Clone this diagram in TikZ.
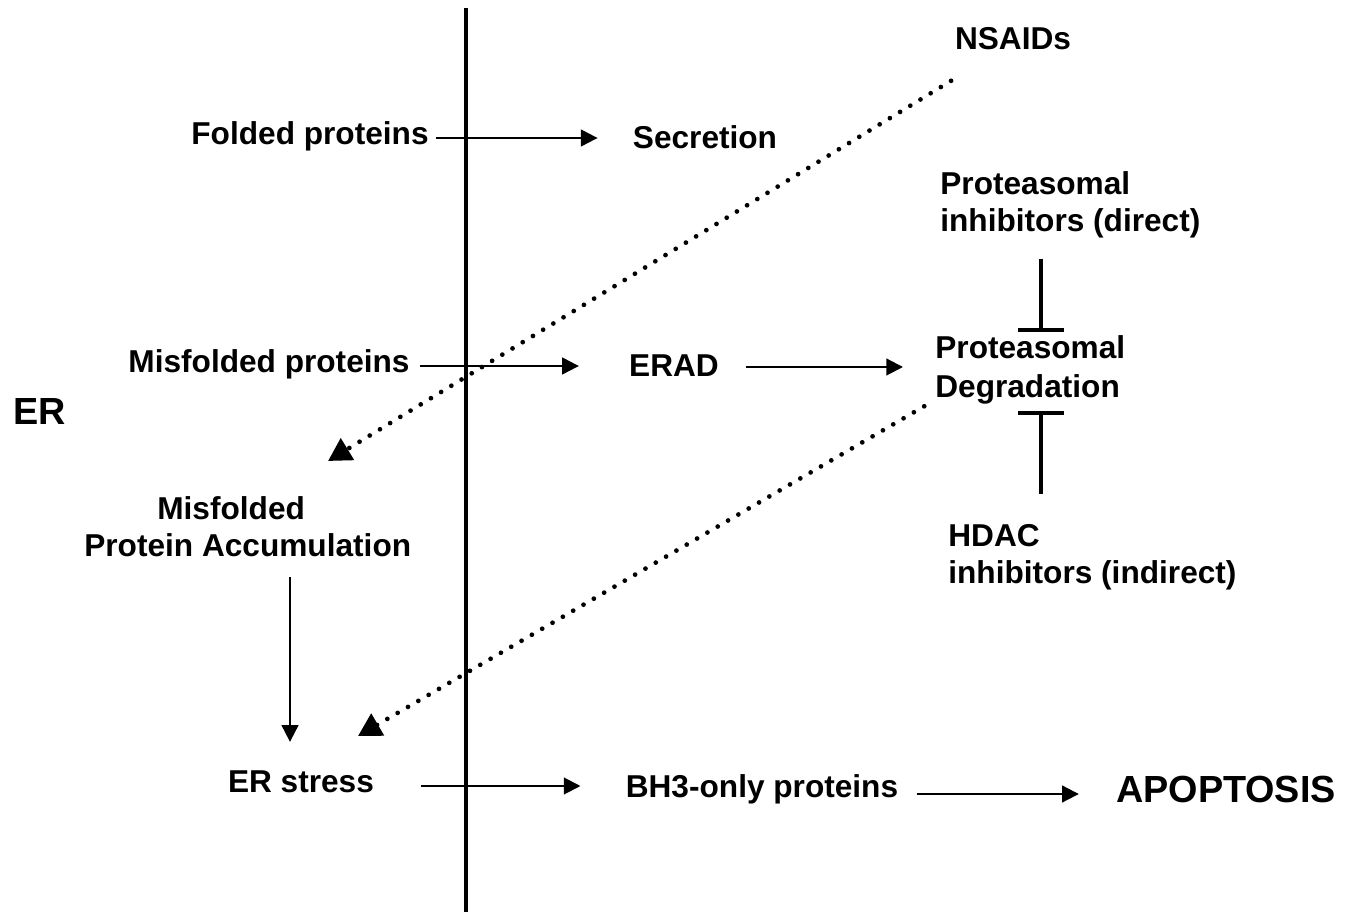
\documentclass[tikz,border=0pt]{standalone}
\usepackage{fontspec}
\setmainfont{Liberation Sans}
\usetikzlibrary{arrows.meta}
\begin{document}
\begin{tikzpicture}[x=0.02cm,y=-0.02cm,
  lbl/.style={font=\fontsize{18}{21}\selectfont\bfseries, inner sep=0pt, text height=1.6ex, text depth=0.3ex},
  multi/.style={font=\fontsize{18}{21}\selectfont\bfseries, inner sep=0pt},
  big/.style={font=\fontsize{21.5}{26}\selectfont\bfseries, inner sep=0pt, text height=1.6ex, text depth=0.3ex},
  arr/.style={line width=1.2pt, -{Triangle[length=9.5pt,width=9.5pt]}},
  dotarr/.style={line width=2.7pt, dash pattern=on 0pt off 6.8pt, line cap=round, -{Triangle[length=13pt,width=14pt]}},
  inh/.style={line width=2.2pt, -{Bar[width=26pt,line width=2.2pt]}},
  axisline/.style={line width=2.6pt},
]
\useasboundingbox (0,0) rectangle (1353,915);

% membrane axis
\coordinate (axtop) at (466,8);
\coordinate (axbot) at (466,912);
\draw[axisline] (axtop) -- (axbot);

% nodes
\node[big] (er) at (40,418) {ER};
\node[lbl] (fp) at (310,138) {Folded proteins};
\node[lbl] (sec) at (705,142) {Secretion};
\node[lbl] (ns) at (1013,43) {NSAIDs};
\node[multi, align=left, anchor=west] (pi) at (940,205) {Proteasomal\\inhibitors (direct)};
\node[lbl] (mp) at (269,366) {Misfolded proteins};
\node[lbl] (erad) at (674,370) {ERAD};
\node[multi, align=left, anchor=west, font=\fontsize{18}{22.5}\selectfont\bfseries] (pd) at (935,370) {Proteasomal\\Degradation};
\node[multi, align=left, anchor=west] (hd) at (948,557) {HDAC\\inhibitors (indirect)};
\node[multi, align=left, anchor=west] (mpa) at (84,527) {\hspace*{1.46cm}Misfolded\\Protein Accumulation};
\node[lbl] (ers) at (301,786) {ER stress};
\node[lbl] (bh3) at (762,791) {BH3-only proteins};
\node[big] (apop) at (1226,796) {APOPTOSIS};

\coordinate (tx) at (1041,0);
\coordinate (vx) at (290,0);
\coordinate (d1) at (328,461);
\coordinate (d2) at (358,736);

% solid arrows
\draw[arr, shorten <=0.14cm, shorten >=0.7cm] (fp.east) -- (fp.east -| sec.west);
\draw[arr, shorten <=0.2cm, shorten >=1cm] (mp.east) -- (mp.east -| erad.west);
\draw[arr, shorten <=0.54cm, shorten >=0.64cm] ([yshift=0.06cm]erad.east) -- ([yshift=0.06cm]erad.east -| pd.west);
\draw[arr, shorten <=0.4cm, shorten >=0.7cm] (mpa.south -| vx) -- (ers.north -| vx);
\draw[arr, shorten <=0.94cm, shorten >=0.9cm] (ers.east) -- (ers.east -| bh3.west);
\draw[arr, shorten <=0.36cm, shorten >=0.74cm] ([yshift=-0.06cm]bh3.east) -- ([yshift=-0.06cm]bh3.east -| apop.west);

% inhibition bars
\draw[inh, shorten <=0.4cm, shorten >=0.06cm] (pi.south -| tx) -- (pd.north -| tx);
\draw[inh, shorten <=0.6cm] (hd.north -| tx) -- ([yshift=-0.12cm]pd.south -| tx);

% dotted arrows
\draw[dotarr, shorten <=1.1cm] (ns) -- (d1);
\draw[dotarr, shorten <=0.25cm] ([yshift=-0.6cm]pd.west) -- (d2);
\end{tikzpicture}
\end{document}
